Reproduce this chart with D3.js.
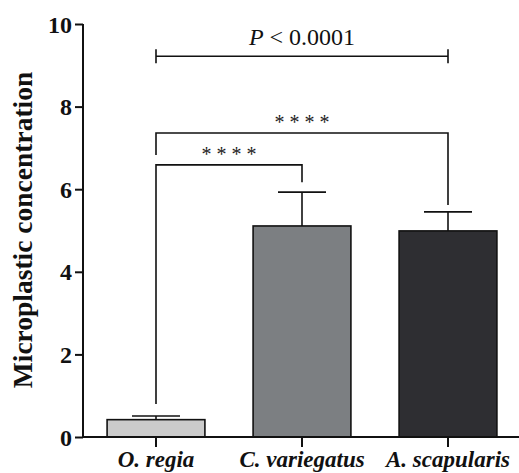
<!DOCTYPE html>
<html><head><meta charset="utf-8">
<script src="https://cdn.jsdelivr.net/npm/d3@7"></script>
<style>body{margin:0;background:#fff}svg{display:block}</style>
</head><body>
<svg id="c" width="519" height="473"></svg>
<script>
const categories = ["O. regia", "C. variegatus", "A. scapularis"];
const means = [0.42, 5.11, 4.99];
const errors = [0.09, 0.82, 0.46];
const barColors = ["#cbcbcb", "#7c7f82", "#2e2e32"];
const yTicks = [0, 2, 4, 6, 8, 10];
const yLabel = "Microplastic concentration";
// significance brackets: from, to, bar level, left leg end, right leg end, label
const brackets = [
  {from: 0, to: 1, level: 6.59, leftEnd: 0.80, rightEnd: 6.17, label: "* * * *"},
  {from: 0, to: 2, level: 7.36, leftEnd: 6.83, rightEnd: 5.62, label: "* * * *"}
];
const pLine = {from: 0, to: 2, level: 9.22, label: "< 0.0001"};

const svg = d3.select("#c");
const serif = "'Liberation Serif','Times New Roman',serif";
const y = d3.scaleLinear().domain([0, 10]).range([437, 24]);
const x = d3.scaleBand().domain(categories).range([83, 521]).paddingInner(0.33).paddingOuter(0.165);
const cx = i => x(categories[i]) + x.bandwidth() / 2;

// bars
svg.selectAll("rect.bar").data(categories).join("rect")
  .attr("x", d => x(d)).attr("y", (d, i) => y(means[i]))
  .attr("width", x.bandwidth()).attr("height", (d, i) => y(0) - y(means[i]))
  .attr("fill", (d, i) => barColors[i]).attr("stroke", "#111").attr("stroke-width", 1.6);

// error bars
const capW = 48;
categories.forEach((c, i) => {
  const g = svg.append("g").attr("stroke", "#111").attr("stroke-width", 1.6);
  g.append("line").attr("x1", cx(i)).attr("x2", cx(i)).attr("y1", y(means[i])).attr("y2", y(means[i] + errors[i]));
  g.append("line").attr("x1", cx(i) - capW / 2).attr("x2", cx(i) + capW / 2).attr("y1", y(means[i] + errors[i])).attr("y2", y(means[i] + errors[i]));
});

// axes
const yAxis = svg.append("g").attr("transform", "translate(83,0)")
  .call(d3.axisLeft(y).tickValues(yTicks).tickSize(8).tickPadding(3));
const xAxis = svg.append("g").attr("transform", "translate(0,437)")
  .call(d3.axisBottom(x).tickSize(10).tickPadding(4));
[yAxis, xAxis].forEach(a => {
  a.select(".domain").attr("stroke", "#111").attr("stroke-width", 2);
  a.selectAll(".tick line").attr("stroke", "#111").attr("stroke-width", 2);
});
yAxis.select(".domain").attr("d", "M0,24V437");
xAxis.select(".domain").attr("d", "M83,0H519");
yAxis.selectAll(".tick text").attr("font-family", serif).attr("font-weight", "bold")
  .attr("font-size", 24).attr("fill", "#111").attr("dy", "0.34em");
xAxis.selectAll(".tick text").attr("font-family", serif).attr("font-weight", "bold")
  .attr("font-style", "italic").attr("font-size", 23).attr("fill", "#111")
  .attr("y", 30).attr("dy", 0);

// y label
svg.append("text").attr("transform", "translate(32,230) rotate(-90)")
  .attr("text-anchor", "middle").attr("font-family", serif).attr("font-weight", "bold")
  .attr("font-size", 27.5).attr("fill", "#111").text(yLabel);

// brackets
brackets.forEach(b => {
  const x1 = cx(b.from), x2 = cx(b.to);
  svg.append("path").attr("fill", "none").attr("stroke", "#111").attr("stroke-width", 1.6)
    .attr("d", `M${x1},${y(b.leftEnd)}V${y(b.level)}H${x2}V${y(b.rightEnd)}`);
  svg.append("text").attr("x", (x1 + x2) / 2).attr("y", y(b.level) - 4)
    .attr("text-anchor", "middle").attr("font-family", serif).attr("font-size", 20)
    .attr("fill", "#222").text(b.label);
});

// P line
{
  const x1 = cx(pLine.from), x2 = cx(pLine.to), yy = y(pLine.level);
  svg.append("path").attr("fill", "none").attr("stroke", "#111").attr("stroke-width", 1.6)
    .attr("d", `M${x1},${yy}H${x2}M${x1},${yy - 7}V${yy + 7}M${x2},${yy - 7}V${yy + 7}`);
  const t = svg.append("text").attr("x", (x1 + x2) / 2).attr("y", yy - 11)
    .attr("text-anchor", "middle").attr("font-family", serif).attr("font-size", 24).attr("fill", "#111");
  t.append("tspan").attr("font-style", "italic").text("P");
  t.append("tspan").text(" " + pLine.label);
}
</script>
</body></html>
